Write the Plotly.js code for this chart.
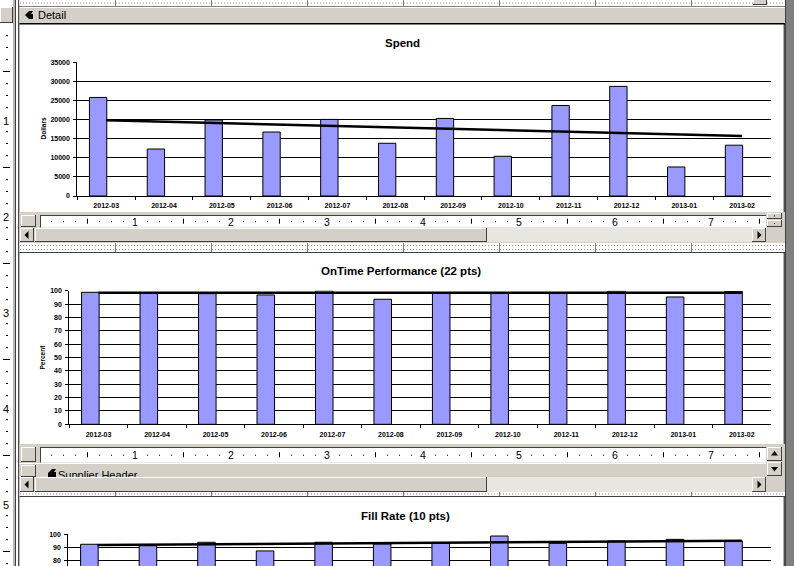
<!DOCTYPE html>
<html><head><meta charset="utf-8">
<script src="https://cdn.plot.ly/plotly-3.0.1.min.js"></script>
<style>html,body{margin:0;padding:0;background:#fff;overflow:hidden}#chart{width:794px;height:566px}</style>
</head><body><div id="chart"></div>
<script>
// ---- data ----
const months = ['2012-03','2012-04','2012-05','2012-06','2012-07','2012-08','2012-09','2012-10','2012-11','2012-12','2013-01','2013-02'];
const spend = [25800,12300,19900,16750,20050,13800,20300,10400,23700,28700,7600,13300];
const spendTrend = [19800,15700];
const onTime = [98.8,98.1,97.8,96.8,100,93.6,98.1,98.1,98.1,99.8,95.3,99.5];
const onTimeTrend = [98.5,98.5];
const fillRate = [92.5,91.4,94.0,87.5,94.0,92.7,93.2,98.7,93.2,95.0,96.2,95.0];
const fillTrend = [92.0,95.2];
const chartTitles = ['Spend','OnTime Performance (22 pts)','Fill Rate (10 pts)'];
const axisTitles = ['Dollars','Percent'];
const rulerNumbers = ['1','2','3','4','5','6','7'];

// ---- geometry helpers ----
const W=794,H=566;
const X=p=>p/W, Y=p=>1-p/H;
const face='#D4D0C8', shadow='#808080', dark='#404040', track='#E8E6E1';
const S=[], A=[];
function rect(x0,y0,x1,y1,fill){S.push({type:'rect',xref:'paper',yref:'paper',x0:X(x0),x1:X(x1),y0:Y(y1),y1:Y(y0),fillcolor:fill,line:{width:0},layer:'above'});}
function ln(x0,y0,x1,y1,c,w,dash){S.push({type:'line',xref:'paper',yref:'paper',x0:X(x0),x1:X(x1),y0:Y(y0),y1:Y(y1),line:{color:c,width:w||1,dash:dash||'solid'},layer:'above'});}
function poly(pts,c){S.push({type:'path',xref:'paper',yref:'paper',path:'M'+pts.map(p=>X(p[0])+','+Y(p[1])).join('L')+'Z',fillcolor:c,line:{width:0},layer:'above'});}
function raised(x0,y0,x1,y1){rect(x0,y0,x1,y1,face);ln(x0,y0+0.5,x1,y0+0.5,'#fff');ln(x0+0.5,y0,x0+0.5,y1,'#fff');ln(x0,y1-0.5,x1,y1-0.5,dark);ln(x1-0.5,y0,x1-0.5,y1,dark);}
function txt(x,y,t,size,o){o=o||{};A.push(Object.assign({xref:'paper',yref:'paper',x:X(x),y:Y(y),text:t,showarrow:false,xanchor:'center',yanchor:'middle',font:{family:'Liberation Sans',size:size,color:'#000'}},o));}

// left vertical ruler
ln(14,0,14,566,'#A0A0A0',1.5);
ln(15.5,0,15.5,566,dark,1);
ln(18.8,0,18.8,566,'#000',1);
for(let k=1;23+12*k<566;k++){
  const y=23+12*k;
  if(k%8===0) txt(6,y+2,String(k/8),11);
  else if(k%4===0) ln(3,y+0.5,10,y+0.5,'#000',1);
  else ln(6,y+0.5,8,y+0.5,'#000',1);
}
// right frame
rect(785,0,794,566,shadow);
ln(785.5,0,785.5,566,dark,1);
ln(784.2,24,784.2,566,'#000',1);

function dotStrip(y0,y1,rows){
  rect(19.5,y0,785,y1,'#fff');
  rows.forEach(r=>ln(20,r,785,r,'#909090',1,'1px,2px'));
  for(let k=0;k<7;k++){const x=115.5+96*k;ln(x,y0,x,y1,shadow,1);}
}
// top strip
dotStrip(0,7,[3]);
ln(19,6.5,785,6.5,shadow,1);
raised(753,-2,767,5);
// Detail bar
rect(19.5,7,785,24,face);
ln(19.5,7.5,785,7.5,'#fff');
ln(19.5,23.8,785,23.8,'#000',1.5);
raised(0,7,13,23);
poly([[25,15],[29,11],[33,11],[31,14],[33,14],[33,19],[29,19]],'#000');
txt(36,15.5,'Detail',11,{xanchor:'left'});

function hruler(y0,y1){
  rect(40,y0,766,y1,'#fff');
  ln(40,y0+0.5,766,y0+0.5,dark,1);
  ln(40.5,y0,40.5,y1,dark,1);
  const ym=(y0+y1)/2;
  for(let k=1;39+12*k<766;k++){
    const x=39+12*k;
    if(k%8===0) txt(x,ym+0.5,rulerNumbers[k/8-1],10.5);
    else if(k%4===0) ln(x+0.5,ym-2.5,x+0.5,ym+2.5,'#000',1);
    else ln(x,ym+0.5,x+1,ym+0.5,'#000',1);
  }
}
function hscroll(y0,y1){
  rect(487,y0,752,y1,track);
  raised(20,y0,34,y1);
  const cy=(y0+y1)/2;
  poly([[24.5,cy],[28.5,cy-4],[28.5,cy+4]],'#000');
  raised(35,y0,487,y1);
  raised(752,y0,766,y1);
  poly([[761.5,cy],[757.5,cy-4],[757.5,cy+4]],'#000');
}
// separator 1
rect(19.5,212,785,243,face);
hruler(215,227.5);
raised(21,215,36,227);
hscroll(228,242);
raised(767,213,782,219);
raised(767,220,782,227);
ln(774,216,775,216,'#000');ln(774,223.5,775,223.5,'#000');
dotStrip(243,252,[245.5,249.5]);
ln(19.5,252.5,785,252.5,dark,1);

// separator 2
rect(19.5,444,785,492,face);
hruler(447,462.5);
raised(21,447,36,462);
ln(19.5,463.5,766,463.5,'#fff');
raised(21,465,36,477);
poly([[48,473],[52,469],[56,469],[54,472],[56,472],[56,477],[48,477]],'#000');
// partly hidden section name: the text box is clipped by its explicit height
A.push({xref:'paper',yref:'paper',x:X(57),y:Y(468),xanchor:'left',yanchor:'top',valign:'top',height:8,borderpad:0,
  text:'Supplier Header',showarrow:false,font:{family:'Liberation Sans',size:11,color:'#000'}});
hscroll(477,492);
raised(767,447,782,461);
poly([[774.5,451],[771,455.5],[778,455.5]],'#000');
raised(767,462,782,476);
poly([[774.5,471.5],[771,467],[778,467]],'#000');
dotStrip(492,496,[494]);
ln(19.5,496.5,785,496.5,dark,1);

// chart titles & axis titles
const tfont={family:'Liberation Sans',size:11.5,color:'#000',weight:700};
txt(402,43,chartTitles[0],11.5,{font:tfont});
txt(401,271,chartTitles[1],11.5,{font:tfont});
txt(405,515.5,chartTitles[2],11.5,{font:tfont});
const afont={family:'Liberation Sans',size:6.5,color:'#000',weight:700};
txt(42.5,129,axisTitles[0],6.5,{font:afont,textangle:-90});
txt(42,357.5,axisTitles[1],6.5,{font:afont,textangle:-90});

// ---- axes ----
const tickfont={family:'Liberation Sans',size:7,color:'#000',weight:700};
function xax(l,anchor,show){return {domain:[X(l),X(771)],anchor:anchor,type:'category',range:[-0.5,11.5],showline:show,linecolor:'#000',linewidth:1,ticks:show?'outside':'',ticklen:3,tickcolor:'#000',tickson:'boundaries',showticklabels:show,tickfont:tickfont,showgrid:false,zeroline:false,fixedrange:true,ticklabelstandoff:3};}
function yax(b,t,range,dtick,anchor){return {domain:[b,t],anchor:anchor,range:range,dtick:dtick,tick0:0,tickformat:'d',showline:true,linecolor:'#000',linewidth:1,ticks:'outside',ticklen:3,tickcolor:'#000',showgrid:true,gridcolor:'#000',gridwidth:1,zeroline:false,tickfont:tickfont,fixedrange:true,ticklabelstandoff:2};}

const barStyle={marker:{color:'#9999FF',line:{color:'#000',width:1}},offset:-0.29,width:0.3,hoverinfo:'skip'};
const lineStyle={mode:'lines',line:{color:'#000',width:2.5},hoverinfo:'skip'};
const ends=[months[0],months[months.length-1]];
const data=[
  Object.assign({type:'bar',x:months,y:spend,xaxis:'x',yaxis:'y'},barStyle),
  Object.assign({type:'scatter',x:ends,y:spendTrend,xaxis:'x',yaxis:'y'},lineStyle),
  Object.assign({type:'bar',x:months,y:onTime,xaxis:'x2',yaxis:'y2'},barStyle),
  Object.assign({type:'scatter',x:ends,y:onTimeTrend,xaxis:'x2',yaxis:'y2'},lineStyle),
  Object.assign({type:'bar',x:months,y:fillRate,xaxis:'x3',yaxis:'y3'},barStyle),
  Object.assign({type:'scatter',x:ends,y:fillTrend,xaxis:'x3',yaxis:'y3'},lineStyle)
];
const layout={
  width:W,height:H,autosize:false,margin:{l:0,r:0,t:0,b:0,pad:0},
  paper_bgcolor:'#fff',plot_bgcolor:'rgba(0,0,0,0)',showlegend:false,
  xaxis:xax(77.3,'y',true),
  yaxis:yax(Y(196),Y(62.3),[0,35000],5000,'x'),
  xaxis2:xax(69.3,'y2',true),
  yaxis2:yax(Y(424.3),Y(290.7),[0,100],10,'x2'),
  xaxis3:xax(68.3,'y3',false),
  yaxis3:yax(0,Y(534.3),[100-31.7*10/13.3,100],10,'x3'),
  shapes:S,annotations:A
};
Plotly.newPlot('chart',data,layout,{staticPlot:true,displayModeBar:false});
</script></body></html>
